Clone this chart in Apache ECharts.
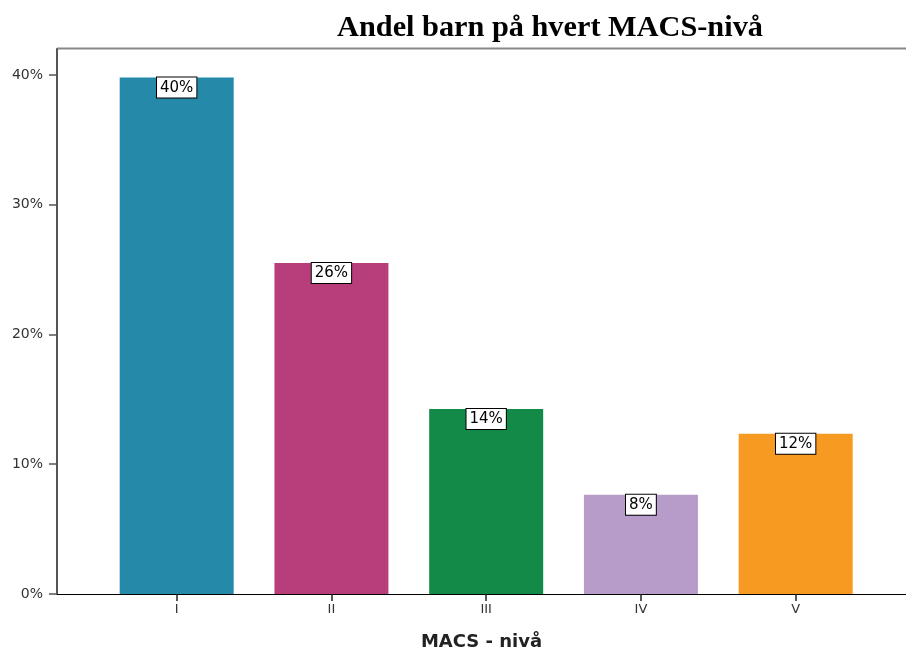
<!DOCTYPE html>
<html>
<head>
<meta charset="utf-8">
<script src="https://cdn.jsdelivr.net/npm/echarts@6/dist/echarts.min.js"></script>
<style>html,body{margin:0;padding:0;background:#fff}#c{width:906px;height:651px}</style>
</head>
<body>
<div id="c"></div>
<script>
const categories = ['I', 'II', 'III', 'IV', 'V'];
const values = [39.8, 25.5, 14.25, 7.65, 12.35];
const colors = ['#2589aa', '#b83e7b', '#138a47', '#b79bc8', '#f79a21'];
const yTicks = [0, 10, 20, 30, 40];

const chart = echarts.init(document.getElementById('c'), null, {renderer: 'canvas'});
const idx = categories.map((c, i) => i);
chart.setOption({
  animation: false,
  title: {
    text: 'Andel barn på hvert MACS-nivå',
    left: 545, textAlign: 'center', top: 8,
    textStyle: {fontFamily: 'Liberation Serif', fontWeight: 'bold', fontSize: 30.3, color: '#000'}
  },
  grid: {left: 57, right: 0, top: 49, bottom: 57, outerBoundsMode: 'none', containLabel: false},
  xAxis: {
    type: 'value', min: -0.7735, max: 4.713,
    name: 'MACS - nivå', nameLocation: 'middle', nameGap: 39,
    nameTextStyle: {fontFamily: 'DejaVu Sans', fontWeight: 'bold', fontSize: 18, color: '#222'},
    axisLine: {show: true, onZero: false, lineStyle: {color: '#000', width: 1.2}},
    axisTick: {show: true, customValues: idx, length: 7, lineStyle: {color: '#222', width: 1.5}},
    axisLabel: {customValues: idx, formatter: v => categories[Math.round(v)], fontFamily: 'DejaVu Sans', fontSize: 13, color: '#333', margin: 9},
    splitLine: {show: false}
  },
  yAxis: {
    type: 'value', min: 0, max: 42, interval: 10,
    axisLine: {show: true, onZero: false, lineStyle: {color: '#555', width: 2}},
    axisTick: {show: true, customValues: yTicks, length: 8, lineStyle: {color: '#555', width: 1.5}},
    axisLabel: {customValues: yTicks, formatter: v => v + '%', fontFamily: 'DejaVu Sans', fontSize: 14, color: '#333', margin: 14},
    splitLine: {show: false}
  },
  graphic: [{type: 'line', shape: {x1: 57, y1: 48.5, x2: 906, y2: 48.5}, style: {stroke: '#888', lineWidth: 2}}],
  series: [{
    type: 'bar', barWidth: 114,
    data: values.map((v, i) => ({value: [i, v], itemStyle: {color: colors[i]}})),
    label: {
      show: true, position: 'insideTop', distance: 0,
      formatter: p => Math.round(p.value[1]) + '%',
      fontFamily: 'DejaVu Sans', fontSize: 15, color: '#000',
      backgroundColor: '#fff', borderColor: '#000', borderWidth: 1, padding: [3, 3, 2, 3]
    }
  }]
});
</script>
</body>
</html>
